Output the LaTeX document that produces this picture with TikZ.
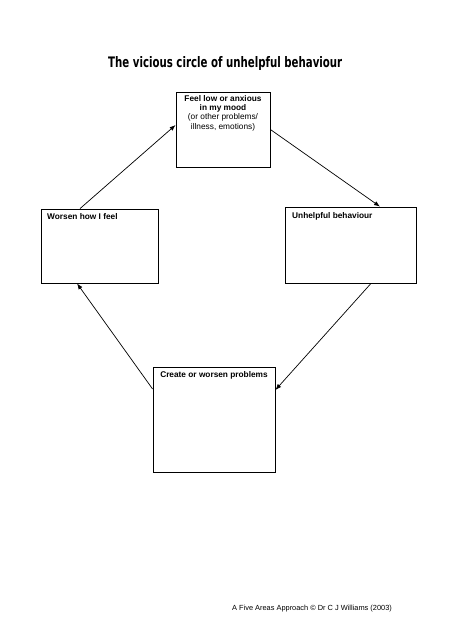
\documentclass[tikz,border=0pt]{standalone}
\usepackage{fontspec}
\setmainfont{Liberation Sans}
\newfontfamily\titlefont{DejaVu Sans}
\usepackage{graphicx}
\usetikzlibrary{arrows.meta}
\begin{document}
\begin{tikzpicture}[x=1pt,y=-1pt,
  box/.style={draw,line width=0.8pt,rectangle,inner sep=0pt},
  lbl/.style={font=\fontsize{8.3}{9.6}\selectfont\bfseries,inner sep=0pt},
  conn/.style={line width=0.7pt,-{Latex[length=6pt,width=4.5pt]}}]
\useasboundingbox (0,0) rectangle (453,640);
\fill[white] (0,0) rectangle (453,640);
% title
\node[inner sep=0pt,anchor=base west] (title) at (108,67)
  {\resizebox{234pt}{11pt}{\titlefont\bfseries The vicious circle of unhelpful behaviour}};
% boxes
\node[box,minimum width=94pt,minimum height=75pt] (tb) at (223,129.5) {};
\node[box,minimum width=117pt,minimum height=74pt] (lb) at (99.5,246) {};
\node[box,minimum width=131pt,minimum height=76pt] (rb) at (350.5,245) {};
\node[box,minimum width=122pt,minimum height=105pt] (bb) at (214,419.5) {};
% texts
\node[lbl,anchor=north,align=center] (tbt) at (223,95)
  {Feel low or anxious\\in my mood\\[-0.5pt]{\mdseries (or other problems/}\\{\mdseries illness, emotions)}};
\node[lbl,anchor=north west] (lbt) at (47,213) {Worsen how I feel};
\node[lbl,anchor=north west] (rbt) at (292,212) {Unhelpful behaviour};
\node[lbl,anchor=north] (bbt) at (214,371) {Create or worsen problems};
% footer
\node[inner sep=0pt,anchor=west,font=\fontsize{7.4}{9}\selectfont] (foot) at (232,609)
  {A Five Areas Approach \textcopyright\ Dr C J Williams (2003)};
% connectors
\draw[conn] ([xshift=-19.5pt]lb.north) -- ([yshift=4.5pt]tb.west);
\draw[conn] (tb.east) -- ([xshift=29.5pt]rb.north);
\draw[conn] ([xshift=20.5pt]rb.south) -- ([yshift=29.5pt]bb.east);
\draw[conn] ([yshift=30.5pt]bb.west) -- ([xshift=-22.5pt]lb.south);
\end{tikzpicture}
\end{document}
